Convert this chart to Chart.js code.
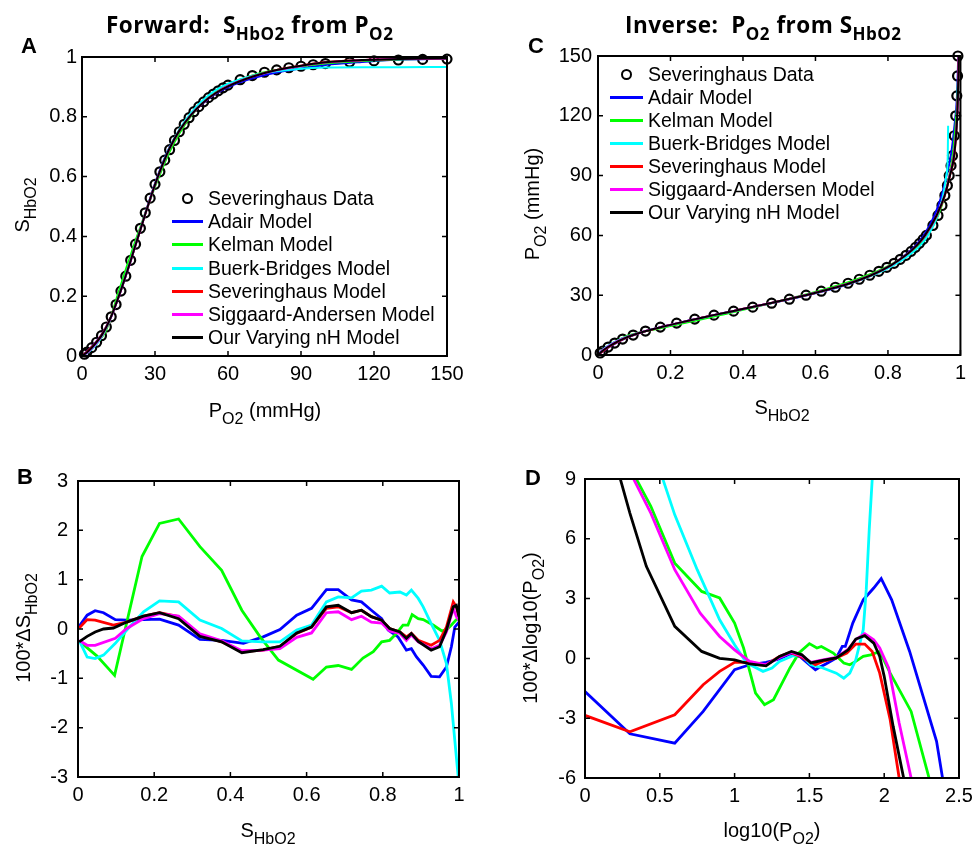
<!DOCTYPE html>
<html>
<head>
<meta charset="utf-8">
<script src="https://cdn.jsdelivr.net/npm/chart.js@4.4.0/dist/chart.umd.min.js"></script>
<style>
  body { margin: 0; background: #fff; overflow: hidden; }
  #fig { position: relative; width: 972px; height: 851px; overflow: hidden; background: #fff;
         font-family: "Liberation Sans", Arial, sans-serif; color: #000; }
  #fig canvas { position: absolute; }
  .lbl { position: absolute; white-space: nowrap; font-size: 20px; line-height: 20px; }
  .lbl sub { font-size: 16px; vertical-align: -7px; line-height: 0; }
  .hz { transform: translateX(-50%); }
  .rot { transform-origin: 0 0; transform: rotate(-90deg) translateX(-50%); }
  .title { position: absolute; white-space: nowrap; font-family: "Open Sans", sans-serif;
           font-weight: bold; font-size: 22.5px; line-height: 22px; letter-spacing: 0.5px; }
  .title sub { font-size: 17px; vertical-align: -7px; line-height: 0; }
  .tag { position: absolute; font-weight: bold; font-size: 22px; line-height: 22px; }
  .leg { position: absolute; font-size: 19.5px; }
  .leg .row { position: absolute; left: 0; height: 23px; line-height: 23px; white-space: nowrap; }
  .leg .ln { position: absolute; top: 10px; height: 3px; }
  .leg .mk { position: absolute; top: 6px; width: 7px; height: 7px; border: 2.2px solid #000; border-radius: 50%; }
</style>
</head>
<body>
<div id="fig">
  <canvas id="chartA" style="left:0;top:0"></canvas>
  <canvas id="chartC" style="left:486px;top:0"></canvas>
  <canvas id="chartB" style="left:0;top:425px"></canvas>
  <canvas id="chartD" style="left:486px;top:425px"></canvas>

  <div class="title" style="left:106px;top:14px">Forward:&nbsp; S<sub>HbO2</sub> from P<sub>O2</sub></div>
  <div class="title" style="left:625px;top:14px">Inverse:&nbsp; P<sub>O2</sub> from S<sub>HbO2</sub></div>

  <div class="tag" style="left:21px;top:35px">A</div>
  <div class="tag" style="left:17px;top:466px">B</div>
  <div class="tag" style="left:528px;top:35px">C</div>
  <div class="tag" style="left:525px;top:467px">D</div>

  <div class="lbl hz" style="left:265px;top:400px">P<sub>O2</sub> (mmHg)</div>
  <div class="lbl rot" style="left:12px;top:205px">S<sub>HbO2</sub></div>

  <div class="lbl hz" style="left:782px;top:397px">S<sub>HbO2</sub></div>
  <div class="lbl rot" style="left:522px;top:204px">P<sub>O2</sub> (mmHg)</div>

  <div class="lbl hz" style="left:268px;top:820px">S<sub>HbO2</sub></div>
  <div class="lbl rot" style="left:13px;top:628px">100*ΔS<sub>HbO2</sub></div>

  <div class="lbl hz" style="left:772px;top:820px">log10(P<sub>O2</sub>)</div>
  <div class="lbl rot" style="left:520px;top:628px">100*Δlog10(P<sub>O2</sub>)</div>

  <div class="leg" id="legA" style="left:172px;top:187px"></div>
  <div class="leg" id="legC" style="left:610px;top:63px"></div>
</div>

<script>
// ---- data ----
const modelNames = ['Adair Model', 'Kelman Model', 'Buerk-Bridges Model', 'Severinghaus Model',
                    'Siggaard-Andersen Model', 'Our Varying nH Model'];
const modelColors = ['#0000ff', '#00ff00', '#00ffff', '#ff0000', '#ff00ff', '#000000'];

// Severinghaus data (PO2 in mmHg, SHbO2 fraction)
const sevP = [1, 2, 4, 6, 8, 10, 12, 14, 16, 18, 20, 22, 24, 26, 28, 30, 32, 34, 36, 38, 40, 42, 44, 46,
              48, 50, 52, 54, 56, 58, 60, 65, 70, 75, 80, 85, 90, 95, 100, 110, 120, 130, 140, 150];
const sevS = [0.006, 0.013, 0.028, 0.046, 0.068, 0.097, 0.131, 0.172, 0.217, 0.267, 0.320, 0.374, 0.427,
              0.479, 0.528, 0.574, 0.616, 0.655, 0.690, 0.721, 0.750, 0.775, 0.797, 0.817, 0.834, 0.850,
              0.864, 0.876, 0.887, 0.897, 0.906, 0.924, 0.938, 0.949, 0.957, 0.964, 0.969, 0.974, 0.978,
              0.983, 0.987, 0.990, 0.992, 0.993];

// model curves, panels A and C
const modelP = [0, 2, 4, 6, 8, 10, 12, 14, 16, 18, 20, 22, 24, 26, 28, 30, 33, 36, 40, 45, 50, 55, 60,
                70, 80, 90, 100, 115, 130, 150];
const adairS = [0, 0.015, 0.0313, 0.0497, 0.0713, 0.0989, 0.1328, 0.1739, 0.219, 0.268, 0.318, 0.3712,
                0.4242, 0.4773, 0.5278, 0.5768, 0.6425, 0.698, 0.7547, 0.808, 0.847, 0.877, 0.8987,
                0.9284, 0.948, 0.9615, 0.9735, 0.9835, 0.9905, 0.994];
const kelmanS = [0, 0.010, 0.024, 0.0405, 0.061, 0.0876, 0.133, 0.187, 0.2385, 0.2893, 0.337, 0.386,
                 0.431, 0.4773, 0.5217, 0.566, 0.627, 0.6826, 0.744, 0.8045, 0.85, 0.8845, 0.9079,
                 0.9385, 0.9567, 0.969, 0.9785, 0.9862, 0.9918, 0.995];
const buerkS = [0, 0.009, 0.0223, 0.04, 0.0627, 0.094, 0.131, 0.1755, 0.223, 0.2725, 0.3218, 0.3742,
                0.4247, 0.4759, 0.5254, 0.5738, 0.6395, 0.6965, 0.7577, 0.8152, 0.8575, 0.8895, 0.9105,
                0.9375, 0.952, 0.961, 0.965, 0.966, 0.966, 0.9666];
const sevModelS = [0, 0.0145, 0.03, 0.0479, 0.0698, 0.0978, 0.1324, 0.1746, 0.2203, 0.2695, 0.3188,
                   0.3714, 0.4225, 0.4747, 0.5245, 0.5731, 0.638, 0.6945, 0.7538, 0.808, 0.849, 0.88,
                   0.903, 0.9352, 0.957, 0.971, 0.983, 0.9895, 0.993, 0.9955];
const siggaardS = [0, 0.01, 0.0247, 0.0427, 0.065, 0.0951, 0.131, 0.174, 0.2204, 0.2696, 0.319, 0.3715,
                   0.4226, 0.4747, 0.524, 0.5721, 0.637, 0.6933, 0.7526, 0.808, 0.849, 0.8797, 0.903,
                   0.934, 0.956, 0.97, 0.9815, 0.9892, 0.993, 0.9948];
const oursS = [0, 0.012, 0.0274, 0.046, 0.0682, 0.0967, 0.1324, 0.1746, 0.2203, 0.2692, 0.3185, 0.3714,
               0.4224, 0.4747, 0.5245, 0.5732, 0.638, 0.6948, 0.7538, 0.808, 0.849, 0.8795, 0.902,
               0.934, 0.9565, 0.971, 0.9825, 0.9898, 0.993, 0.9955];
const buerkInverseMaxP = 115; // Buerk-Bridges inverse stops here in panel C

// panel B: [SHbO2, 100*dS]
const bAdair = [[0, 0.02], [0.024, 0.28], [0.045, 0.37], [0.067, 0.33], [0.098, 0.19], [0.128, 0.18],
  [0.172, 0.19], [0.214, 0.2], [0.264, 0.08], [0.32, -0.21], [0.377, -0.23], [0.434, -0.29], [0.486, -0.16],
  [0.53, -0.01], [0.574, 0.28], [0.613, 0.42], [0.652, 0.8], [0.683, 0.8], [0.718, 0.59], [0.744, 0.55],
  [0.77, 0.38], [0.797, 0.21], [0.814, -0.02], [0.84, -0.16], [0.862, -0.43], [0.875, -0.4], [0.888, -0.56],
  [0.906, -0.73], [0.927, -0.96], [0.949, -0.97], [0.967, -0.77], [0.98, -0.36], [0.989, 0.04], [1, 0.14]];
const bKelman = [[0.004, -0.25], [0.05, -0.55], [0.096, -0.94], [0.124, 0], [0.168, 1.47], [0.214, 2.14],
  [0.264, 2.23], [0.32, 1.67], [0.377, 1.19], [0.43, 0.38], [0.478, -0.16], [0.526, -0.63], [0.617, -1.02],
  [0.652, -0.77], [0.683, -0.74], [0.718, -0.82], [0.748, -0.59], [0.775, -0.46], [0.797, -0.26],
  [0.818, -0.23], [0.836, -0.09], [0.853, 0.08], [0.866, 0.08], [0.877, 0.29], [0.893, 0.21], [0.906, 0.19],
  [0.932, 0.08], [0.955, -0.04], [0.967, -0.02], [0.98, 0.08], [0.993, 0.19], [1, 0.21]];
const bBuerk = [[0.003, -0.23], [0.024, -0.57], [0.045, -0.6], [0.067, -0.53], [0.098, -0.29],
  [0.128, -0.02], [0.172, 0.35], [0.214, 0.57], [0.264, 0.55], [0.32, 0.18], [0.377, 0.01], [0.43, -0.24],
  [0.486, -0.26], [0.53, -0.26], [0.574, -0.02], [0.613, 0.08], [0.652, 0.55], [0.683, 0.65], [0.718, 0.63],
  [0.744, 0.77], [0.77, 0.79], [0.797, 0.87], [0.818, 0.73], [0.845, 0.75], [0.862, 0.69], [0.875, 0.79],
  [0.893, 0.62], [0.906, 0.45], [0.927, 0.11], [0.949, -0.23], [0.967, -0.7], [0.98, -1.51], [0.989, -2.26],
  [0.998, -3], [1, -3.3]];
const bSev = [[0.003, 0.02], [0.024, 0.19], [0.045, 0.18], [0.093, 0.08], [0.128, 0.14], [0.172, 0.26],
  [0.214, 0.33], [0.264, 0.25], [0.32, -0.12], [0.377, -0.26], [0.43, -0.46], [0.486, -0.43], [0.53, -0.35],
  [0.574, -0.09], [0.613, 0.04], [0.652, 0.42], [0.683, 0.45], [0.718, 0.33], [0.744, 0.38], [0.77, 0.25],
  [0.797, 0.18], [0.818, 0.01], [0.845, -0.06], [0.862, -0.16], [0.875, -0.09], [0.893, -0.23],
  [0.927, -0.33], [0.949, -0.23], [0.967, 0.04], [0.985, 0.55], [0.993, 0.45], [1, 0.25]];
const bSiggaard = [[0.003, -0.23], [0.024, -0.33], [0.045, -0.33], [0.098, -0.19], [0.128, 0.01],
  [0.172, 0.21], [0.214, 0.31], [0.264, 0.26], [0.32, -0.1], [0.377, -0.24], [0.43, -0.44], [0.486, -0.43],
  [0.53, -0.4], [0.574, -0.17], [0.613, -0.08], [0.652, 0.33], [0.683, 0.35], [0.718, 0.19], [0.744, 0.26],
  [0.77, 0.14], [0.797, 0.12], [0.818, -0.04], [0.845, -0.09], [0.862, -0.23], [0.875, -0.12],
  [0.893, -0.26], [0.927, -0.4], [0.949, -0.33], [0.967, -0.06], [0.985, 0.42], [0.993, 0.25], [1, 0.18]];
const bOurs = [[0.003, -0.26], [0.024, -0.15], [0.045, -0.06], [0.067, 0], [0.093, 0.02], [0.128, 0.14],
  [0.172, 0.26], [0.214, 0.33], [0.264, 0.21], [0.32, -0.15], [0.377, -0.26], [0.43, -0.48], [0.486, -0.42],
  [0.53, -0.35], [0.574, -0.08], [0.613, 0.04], [0.652, 0.45], [0.683, 0.48], [0.718, 0.33], [0.744, 0.38],
  [0.77, 0.25], [0.797, 0.18], [0.818, 0.01], [0.845, -0.06], [0.862, -0.19], [0.875, -0.09],
  [0.893, -0.25], [0.927, -0.43], [0.949, -0.36], [0.967, -0.02], [0.985, 0.45], [0.993, 0.48], [1, 0.25]];

// panel D: [log10(PO2), 100*dlog10(PO2)]
const dAdair = [[0, -1.66], [0.3, -3.78], [0.6, -4.25], [0.79, -2.66], [1.0, -0.57], [1.1, -0.32],
  [1.21, -0.2], [1.3, -0.03], [1.37, 0.22], [1.44, 0.07], [1.5, -0.32], [1.54, -0.57], [1.57, -0.43],
  [1.61, -0.28], [1.68, 0.02], [1.72, 0.6], [1.74, 0.6], [1.79, 1.77], [1.86, 2.94], [1.93, 3.53],
  [1.98, 4.0], [2.0, 3.7], [2.05, 2.94], [2.17, 0.35], [2.26, -1.91], [2.35, -4.16], [2.39, -6], [2.42, -7.5]];
const dKelman = [[0.3, 10.5], [0.343, 9], [0.44, 7.63], [0.6, 4.78], [0.78, 3.36], [0.9, 3.03],
  [1.0, 1.77], [1.06, 0.52], [1.14, -1.74], [1.2, -2.32], [1.26, -2.07], [1.37, -0.48], [1.43, 0.27],
  [1.5, 0.74], [1.55, 0.52], [1.58, 0.6], [1.66, 0.27], [1.73, -0.23], [1.77, -0.32], [1.81, -0.15],
  [1.86, 0.1], [1.91, 0.18], [1.97, 0.35], [2.04, -0.74], [2.18, -2.66], [2.3, -6], [2.33, -7]];
const dBuerk = [[0.48, 10.5], [0.52, 9], [0.6, 7.2], [0.75, 4.45], [0.9, 1.94], [1.0, 0.69], [1.08, -0.23],
  [1.19, -0.65], [1.25, -0.48], [1.3, -0.15], [1.39, 0.13], [1.45, 0.13], [1.51, -0.32], [1.59, -0.48],
  [1.68, -0.74], [1.73, -0.99], [1.77, -0.74], [1.81, -0.07], [1.86, 1.44], [1.88, 3.45], [1.9, 6.46],
  [1.92, 9], [1.93, 10.5]];
const dSev = [[0, -2.86], [0.3, -3.68], [0.6, -2.83], [0.79, -1.32], [0.9, -0.65], [1.0, -0.2], [1.1, -0.2],
  [1.21, -0.32], [1.3, 0.1], [1.37, 0.3], [1.44, 0.1], [1.5, -0.15], [1.54, -0.32], [1.59, -0.15],
  [1.68, 0.02], [1.75, 0.27], [1.81, 0.72], [1.87, 0.72], [1.92, 0.35], [1.97, -0.74], [2.04, -3.08],
  [2.1, -6], [2.12, -7]];
const dSiggaard = [[0.28, 10.5], [0.325, 9], [0.44, 7.29], [0.6, 4.45], [0.77, 2.27], [0.9, 1.1],
  [1.0, 0.43], [1.1, -0.15], [1.21, -0.32], [1.3, 0.05], [1.38, 0.3], [1.45, 0.13], [1.51, -0.2],
  [1.59, -0.07], [1.68, 0.05], [1.76, 0.47], [1.81, 0.94], [1.87, 1.24], [1.93, 0.94], [1.97, 0.52],
  [2.03, -0.48], [2.1, -3.24], [2.18, -6], [2.2, -7]];
const dOurs = [[0.2, 10.5], [0.236, 9], [0.3, 7.29], [0.41, 4.62], [0.6, 1.61], [0.78, 0.35], [0.9, 0],
  [1.0, -0.07], [1.1, -0.28], [1.21, -0.37], [1.3, 0.1], [1.38, 0.35], [1.45, 0.18], [1.51, -0.23],
  [1.59, -0.1], [1.68, 0.02], [1.76, 0.43], [1.81, 0.97], [1.87, 1.14], [1.93, 0.77], [1.97, 0.1],
  [2.0, -0.9], [2.06, -3.41], [2.13, -6], [2.15, -7]];

// tick labels
const aXTicks = [0, 30, 60, 90, 120, 150];
const aYTicks = [0, 0.2, 0.4, 0.6, 0.8, 1];
const cXTicks = [0, 0.2, 0.4, 0.6, 0.8, 1];
const cYTicks = [0, 30, 60, 90, 120, 150];
const bXTicks = [0, 0.2, 0.4, 0.6, 0.8, 1];
const bYTicks = [-3, -2, -1, 0, 1, 2, 3];
const dXTicks = [0, 0.5, 1, 1.5, 2, 2.5];
const dYTicks = [-6, -3, 0, 3, 6, 9];

// ---- helpers ----
const tickFont = { family: '"Liberation Sans", Arial, sans-serif', size: 20 };

// matlab-like box with inward ticks on all four sides
const boxPlugin = {
  id: 'matlabBox',
  afterDraw(chart) {
    const { ctx, chartArea: a, scales } = chart;
    const len = 5;
    ctx.save();
    ctx.strokeStyle = '#000';
    ctx.lineWidth = 1.5;
    ctx.beginPath();
    scales.x.ticks.forEach(t => {
      const px = scales.x.getPixelForValue(t.value);
      ctx.moveTo(px, a.bottom); ctx.lineTo(px, a.bottom - len);
      ctx.moveTo(px, a.top); ctx.lineTo(px, a.top + len);
    });
    scales.y.ticks.forEach(t => {
      const py = scales.y.getPixelForValue(t.value);
      ctx.moveTo(a.left, py); ctx.lineTo(a.left + len, py);
      ctx.moveTo(a.right, py); ctx.lineTo(a.right - len, py);
    });
    ctx.stroke();
    ctx.lineWidth = 2;
    ctx.strokeRect(a.left, a.top, a.right - a.left, a.bottom - a.top);
    ctx.restore();
  }
};

function axis(ticks, pad, fit) {
  return {
    type: 'linear',
    min: ticks[0],
    max: ticks[ticks.length - 1],
    afterBuildTicks: s => { s.ticks = ticks.map(v => ({ value: v })); },
    afterFit: fit,
    grid: { display: false, drawTicks: false },
    border: { display: false },
    ticks: { padding: pad, color: '#000', font: tickFont, autoSkip: false, maxRotation: 0,
             callback: v => String(v) }
  };
}

function makeChart(id, w, h, area, xTicks, yTicks, pads, datasets) {
  const cv = document.getElementById(id);
  cv.width = w; cv.height = h;
  const xH = 30;
  return new Chart(cv, {
    type: 'line',
    data: { datasets: datasets },
    options: {
      responsive: false,
      animation: false,
      devicePixelRatio: 1,
      layout: { padding: { left: 0, top: area.top, right: w - area.right, bottom: h - area.bottom - xH } },
      plugins: { legend: { display: false }, tooltip: { enabled: false } },
      scales: {
        x: axis(xTicks, pads[1], s => { s.height = xH; }),
        y: axis(yTicks, pads[0], s => { s.width = area.left; })
      }
    },
    plugins: [boxPlugin]
  });
}

function lineSet(points, i, width, smooth) {
  return {
    data: points,
    borderColor: modelColors[i],
    backgroundColor: modelColors[i],
    borderWidth: width,
    pointRadius: 0,
    fill: false,
    tension: 0,
    cubicInterpolationMode: smooth ? 'monotone' : 'default',
    clip: 0,
    order: 6 - i
  };
}

function circleSet(points) {
  return {
    data: points,
    showLine: false,
    pointRadius: 4.5,
    pointBorderWidth: 2.2,
    pointBorderColor: '#000',
    pointBackgroundColor: 'rgba(0,0,0,0)',
    borderColor: '#000',
    clip: false,
    order: 10
  };
}

function buildLegend(id, rowH, lineW, textX) {
  const box = document.getElementById(id);
  const rows = [{ name: 'Severinghaus Data', color: null }]
    .concat(modelNames.map((n, i) => ({ name: n, color: modelColors[i] })));
  rows.forEach((r, k) => {
    const row = document.createElement('div');
    row.className = 'row';
    row.style.top = (k * rowH) + 'px';
    const mark = document.createElement('div');
    if (r.color) {
      mark.className = 'ln';
      mark.style.left = '0px';
      mark.style.width = lineW + 'px';
      mark.style.background = r.color;
    } else {
      mark.className = 'mk';
      mark.style.left = (lineW / 2 - 5.5) + 'px';
    }
    row.appendChild(mark);
    const txt = document.createElement('span');
    txt.style.position = 'absolute';
    txt.style.left = textX + 'px';
    txt.textContent = r.name;
    row.appendChild(txt);
    box.appendChild(row);
  });
}

// ---- panel A: S from P ----
const modelS = [adairS, kelmanS, buerkS, sevModelS, siggaardS, oursS];
const aSets = [circleSet(sevP.map((p, k) => ({ x: p, y: sevS[k] })))]
  .concat(modelS.map((arr, i) => lineSet(modelP.map((p, k) => ({ x: p, y: arr[k] })), i, 2, true)));
makeChart('chartA', 486, 425, { left: 82, right: 447, top: 57, bottom: 356 }, aXTicks, aYTicks, [5, 6], aSets);

// ---- panel C: P from S ----
const cSets = [circleSet(sevP.map((p, k) => ({ x: sevS[k], y: p })))]
  .concat(modelS.map((arr, i) => {
    let pts = modelP.map((p, k) => ({ x: arr[k], y: p }));
    if (i === 2) pts = pts.filter(q => q.y <= buerkInverseMaxP);
    return lineSet(pts, i, 2, true);
  }));
makeChart('chartC', 486, 425, { left: 112, right: 479, top: 56, bottom: 355 }, cXTicks, cYTicks, [6, 6], cSets);

// ---- panel B ----
const toXY = arr => arr.map(q => ({ x: q[0], y: q[1] }));
const bSeries = [bAdair, bKelman, bBuerk, bSev, bSiggaard, bOurs];
makeChart('chartB', 486, 426, { left: 78, right: 459, top: 56, bottom: 352 }, bXTicks, bYTicks, [10, 6],
  bSeries.map((s, i) => lineSet(toXY(s), i, 2.8, false)));

// ---- panel D ----
const dSeries = [dAdair, dKelman, dBuerk, dSev, dSiggaard, dOurs];
makeChart('chartD', 520, 426, { left: 99, right: 473, top: 54, bottom: 353 }, dXTicks, dYTicks, [9, 6],
  dSeries.map((s, i) => lineSet(toXY(s), i, 2.8, false)));

buildLegend('legA', 23.2, 31, 36);
buildLegend('legC', 23, 33, 38);
</script>
</body>
</html>
